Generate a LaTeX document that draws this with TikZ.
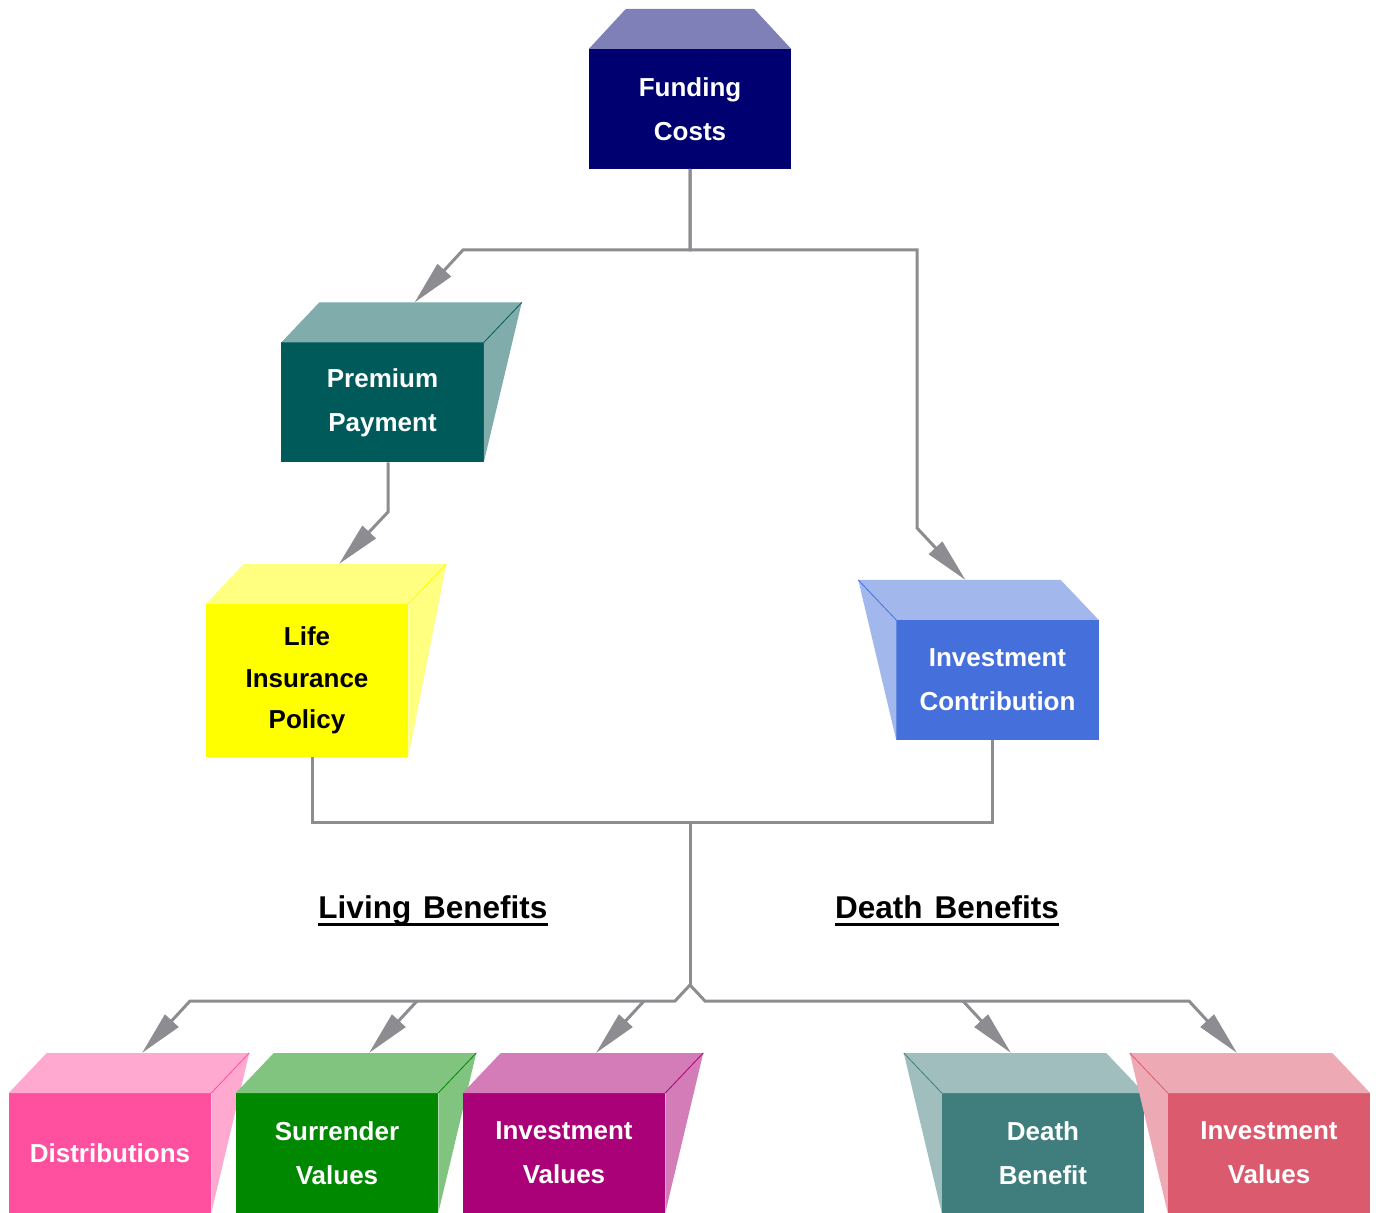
\documentclass[tikz,border=0pt]{standalone}
\usepackage{fontspec}
\setmainfont{Liberation Sans}
\usetikzlibrary{arrows.meta,calc}
\definecolor{lineg}{RGB}{140,140,145}
\definecolor{fcF}{RGB}{0,0,112}\definecolor{fcL}{RGB}{128,128,184}
\definecolor{ppF}{RGB}{0,90,90}\definecolor{ppL}{RGB}{128,172,172}
\definecolor{liF}{RGB}{255,255,0}\definecolor{liL}{RGB}{255,255,128}
\definecolor{icF}{RGB}{69,112,220}\definecolor{icL}{RGB}{162,184,236}
\definecolor{diF}{RGB}{255,80,160}\definecolor{diL}{RGB}{255,168,208}
\definecolor{suF}{RGB}{0,136,0}\definecolor{suL}{RGB}{128,196,128}
\definecolor{imF}{RGB}{170,0,120}\definecolor{imL}{RGB}{212,124,184}
\definecolor{dbF}{RGB}{64,126,126}\definecolor{dbL}{RGB}{160,190,190}
\definecolor{irF}{RGB}{220,90,110}\definecolor{irL}{RGB}{238,170,180}
\tikzset{
  frontbox/.style={rectangle, draw=none, inner sep=0pt, outer sep=0pt,
    minimum width=101.25pt, minimum height=60pt, align=center, text=white,
    font=\fontsize{13}{22}\selectfont\bfseries},
  conn/.style={draw=lineg, line width=1.5pt, line join=miter},
  arr/.style={-{Triangle[length=22pt,width=9pt]}},
  head/.style={font=\fontsize{15.75}{18}\selectfont\bfseries, inner sep=0pt, anchor=base},
}
% right-side cube
\newcommand\cubeR[6]{%
  \node[frontbox, fill=#4, #3] (#1) at (#2) {#6};
  \fill[#5] (#1.north west) -- ++(38,-40) -- ($(#1.north east)+(38,-40)$) -- (#1.north east) -- cycle;
  \fill[#5] (#1.north east) -- ++(38,-40) -- (#1.south east) -- cycle;
  \draw[#4, line width=0.4pt] (#1.north east) -- ++(38,-40);
  \coordinate (#1-tip) at ($(#1.north)+(32,-40)$);
}
% left-side cube
\newcommand\cubeL[6]{%
  \node[frontbox, fill=#4, #3] (#1) at (#2) {#6};
  \fill[#5] (#1.north west) -- ++(-38,-40) -- ($(#1.north east)+(-38,-40)$) -- (#1.north east) -- cycle;
  \fill[#5] (#1.north west) -- ++(-38,-40) -- (#1.south west) -- cycle;
  \draw[#4, line width=0.4pt] (#1.north west) -- ++(-38,-40);
  \coordinate (#1-tip) at ($(#1.north)+(-32,-40)$);
}
\begin{document}
\begin{tikzpicture}[x=0.5pt,y=-0.5pt]
\useasboundingbox (0,0) rectangle (1376,1213);
% top box
\node[frontbox, fill=fcF] (fc) at (690,109) {Funding\\Costs};
\fill[fcL] (fc.north west) -- ++(37,-40) -- ($(fc.north east)+(-37,-40)$) -- (fc.north east) -- cycle;

\cubeR{pp}{382.5,402.5}{}{ppF}{ppL}{Premium\\Payment}
\cubeR{li}{307,680.5}{minimum height=76.5pt, text=black, font=\fontsize{13}{20.75}\selectfont\bfseries}{liF}{liL}{Life\\Insurance\\Policy}
\cubeL{ic}{997.5,680}{}{icF}{icL}{Investment\\Contribution}

\cubeR{di}{110,1153}{}{diF}{diL}{Distributions}
\cubeR{su}{337,1153}{}{suF}{suL}{Surrender\\Values}
\cubeR{im}{564,1153}{}{imF}{imL}{Investment\\Values}
\cubeL{db}{1043,1153}{}{dbF}{dbL}{Death\\Benefit}
\cubeL{ir}{1269,1153}{}{irF}{irL}{Investment\\Values}

% headings
\node[head] (lb) at (433,918) {Living\hspace{6pt}Benefits};
\draw[line width=1.65pt] ([yshift=-3.25pt]lb.base west) -- ([yshift=-3.25pt]lb.base east);
\node[head] (dbh) at (947,918) {Death\hspace{6pt}Benefits};
\draw[line width=1.65pt] ([yshift=-3.25pt]dbh.base west) -- ([yshift=-3.25pt]dbh.base east);

% bend coordinates
\coordinate (b1) at (463,250);
\coordinate (b2) at (917,250);
\coordinate (b3) at (917,528);
\coordinate (b4) at (388,512);
\coordinate (c1) at (312,822);
\coordinate (c2) at (992,822);
\coordinate (c3) at (690,822);
\coordinate (c4) at (690,985);
\coordinate (dl) at (675,1001);
\coordinate (dr) at (705,1001);
\coordinate (e1) at (190,1001);
\coordinate (e2) at (417,1001);
\coordinate (e3) at (644,1001);
\coordinate (e4) at (963,1001);
\coordinate (e5) at (1189,1001);

% connectors
\draw[conn, arr] (fc.south) |- (b1) -- (pp-tip);
\draw[conn, arr] (fc.south) |- (b2) -- (b3) -- (ic-tip);
\draw[conn, arr] (pp.south -| b4) -- (b4) -- (li-tip);
\draw[conn] (li.south -| c1) -- (c1) -- (c2) -- (ic.south -| c2);
\draw[conn] (c3) -- (c4);
\draw[conn, arr] (c4) -- (dl) -- (e1) -- (di-tip);
\draw[conn, arr] (c4) -- (dr) -- (e5) -- (ir-tip);
\draw[conn, arr] (e2) -- (su-tip);
\draw[conn, arr] (e3) -- (im-tip);
\draw[conn, arr] (e4) -- (db-tip);
\end{tikzpicture}
\end{document}
